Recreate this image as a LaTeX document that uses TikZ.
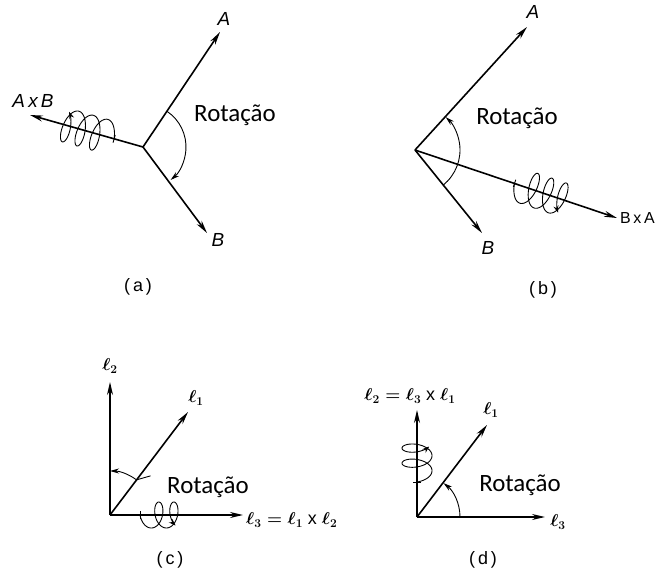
\documentclass[tikz,border=0pt]{standalone}
\usepackage{fontspec}
\setmainfont{Liberation Sans}
\newfontfamily\rotfont{Carlito}
\usetikzlibrary{arrows.meta}
\newcommand{\Coil}[5]{% origin, axis angle, start, turns, radius
  \begin{scope}[shift={(#1)},rotate=#2]
    \draw[coil] (#3,-4) -- (#3,4);
    \draw[coil,-{Stealth[length=7pt,width=5pt]}] plot[domain=0:{(2*#4+0.3)*pi},samples=150,variable=\t]
      ({#3+7.5+2.4*\t-7.5*cos(\t r)},{-#5*sin(\t r)});
  \end{scope}}

\begin{document}
\begin{tikzpicture}[x=1bp,y=1bp,
      every node/.style={inner sep=1pt},
      vec/.style={-{Stealth[length=13pt,width=6pt]},line width=1.6pt},
      rot/.style={-{Stealth[length=9pt,width=5pt]},line width=0.9pt},
      coil/.style={line width=0.9pt},
      lbl/.style={font=\fontsize{19}{22}\selectfont\itshape},
      ell/.style={font=\fontsize{18}{22}\selectfont\boldmath},
      rotlbl/.style={font=\rotfont\fontsize{25}{30}\selectfont},
      paneltag/.style={font=\fontsize{18}{22}\selectfont}]
      \useasboundingbox (0,0) rectangle (660,-574);
      % (a)
      \coordinate (oa) at (143,-147);
      \coordinate (aa) at (220,-32);
      \coordinate (ba) at (207,-233);
      \coordinate (axb) at (30,-115);
      \node[lbl] (alaba) at (224,-19) {A};
      \node[lbl] (blaba) at (218,-240) {B};
      \node[lbl] (axblab) at (33,-101) {A\,x\,B};
      \node[rotlbl] (rota) at (235,-115) {Rotação};
      \node[paneltag] (capa) at (138,-287) {(\,a\,)};
      \draw[vec] (oa)--(aa);
      \draw[vec] (oa)--(ba);
      \draw[vec] (oa)--(axb);
      \draw[rot] (oa) ++(56:43) arc[start angle=56,end angle=-50,radius=43];
      \Coil{oa}{164.2}{30}{3}{17}
      % (b)
      \coordinate (ob) at (415,-150);
      \coordinate (ab) at (527,-27);
      \coordinate (bb) at (482,-233);
      \coordinate (bxa) at (617,-218);
      \node[lbl] (alabb) at (533,-12) {A};
      \node[lbl] (blabb) at (488,-248) {B};
      \node[font=\fontsize{16}{18}\selectfont,anchor=west] (bxalab) at (619,-218) {B\,x\,A};
      \node[rotlbl] (rotb) at (517,-118) {Rotação};
      \node[paneltag] (capb) at (543,-290) {(\,b\,)};
      \draw[vec] (ob)--(ab);
      \draw[vec] (ob)--(bb);
      \draw[vec] (ob)--(bxa);
      \draw[rot] (ob) ++(-51:45) arc[start angle=-51,end angle=47,radius=45];
      \Coil{ob}{-18.6}{105}{3}{17}
      % (c)
      \coordinate (oc) at (110,-515);
      \coordinate (l2c) at (110,-382);
      \coordinate (l1c) at (188,-412);
      \coordinate (l3c) at (243,-515);
      \node[ell] (l2labc) at (110,-366) {$\ell_2$};
      \node[ell] (l1labc) at (196,-398) {$\ell_1$};
      \node[ell,anchor=west] (l3labc) at (245,-520) {$\ell_3 = \ell_1$ x $\ell_2$};
      \node[rotlbl] (rotc) at (208,-487) {Rotação};
      \node[paneltag] (capc) at (170,-560) {(\,c\,)};
      \draw[vec] (oc)--(l2c);
      \draw[vec] (oc)--(l1c);
      \draw[vec] (oc)--(l3c);
      \draw[rot] (oc) ++(53:44) ++(14,4) -- ++(-14,-4) arc[start angle=53,end angle=90,radius=44];
      \Coil{oc}{0}{30}{2}{13}
      % (d)
      \coordinate (od) at (417,-517);
      \coordinate (l2d) at (417,-410);
      \coordinate (l1d) at (487,-425);
      \coordinate (l3d) at (545,-517);
      \node[ell] (l2labd) at (410,-396) {$\ell_2 = \ell_3$ x $\ell_1$};
      \node[ell] (l1labd) at (491,-410) {$\ell_1$};
      \node[ell] (l3labd) at (558,-522) {$\ell_3$};
      \node[rotlbl] (rotd) at (520,-485) {Rotação};
      \node[paneltag] (capd) at (483,-560) {(\,d\,)};
      \draw[vec] (od)--(l2d);
      \draw[vec] (od)--(l1d);
      \draw[vec] (od)--(l3d);
      \draw[rot] (od) ++(0:43) arc[start angle=0,end angle=52,radius=43];
      \Coil{od}{90}{35}{2}{15}
    \end{tikzpicture}
\end{document}
